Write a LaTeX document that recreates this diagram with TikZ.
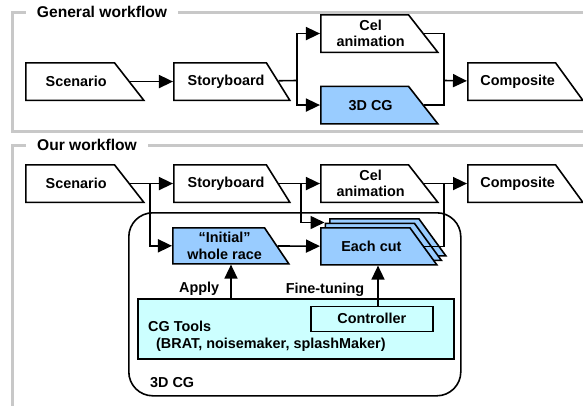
\documentclass[tikz,border=0pt]{standalone}
\usepackage{fontspec}
\setmainfont{Liberation Sans}
\usetikzlibrary{shapes.geometric, arrows.meta, positioning}
\definecolor{cgblue}{HTML}{99CCFF}
\definecolor{toolcyan}{HTML}{CCFFFF}
\definecolor{panelgray}{HTML}{C8C8C8}
\newcommand{\boxfont}{\fontsize{14.4}{16.5}\selectfont\bfseries}
\newcommand{\titlefont}{\fontsize{15.6}{18}\selectfont\bfseries}
\tikzstyle{wire}=[line width=1.6pt]
\tikzset{flow/.style={trapezium, trapezium left angle=90, trapezium right angle=54,
  trapezium stretches body, draw, wire, fill=white, minimum width=116pt,
  inner xsep=0pt, inner ysep=18.75pt, anchor=top left corner,
  label={[xshift=6pt, align=center]center:{#1}}}}
\tikzstyle{panel}=[draw=panelgray, line width=3pt]
\tikzstyle{title}=[fill=white, inner xsep=11pt, inner ysep=0pt, font=\titlefont]
\tikzstyle{box}=[draw, wire, fill=toolcyan, inner sep=0pt, anchor=north west]

\begin{document}
\begin{tikzpicture}[x=1pt, y=-1pt, font=\boxfont, >={Triangle[length=14pt,width=13pt]}]
    \useasboundingbox (0,0) rectangle (583,405);
    \clip (0,0) rectangle (583,405);

    % general workflow
    \draw[panel] (12,12) rectangle (600,131.5);
    \node[title] (gtitle) at (102,12) {General workflow};
    \node[flow=Scenario, minimum width=118pt, trapezium right angle=52] (scen1) at (25,62) {};
    \node[flow=Storyboard, trapezium right angle=58] (story1) at (173,62) {};
    \node[flow={Cel\\animation}, minimum width=117pt, trapezium right angle=52] (cel1) at (320,14) {};
    \node[flow={3D CG}, minimum width=117pt, trapezium right angle=52, fill=cgblue] (cg1) at (320,85.5) {};
    \node[flow=Composite, minimum width=115pt] (comp1) at (467,62) {};
    \coordinate (fork1) at (297,80.5);
    \coordinate (join1) at (444,80.5);
    \draw[->, wire] (scen1) -- (story1);
    \draw[wire] (story1) -- (fork1);
    \draw[->, wire] (fork1) |- (cel1.west);
    \draw[->, wire] (fork1) |- (cg1.west);
    \draw[wire] (cel1.east) -| (join1);
    \draw[wire] (cg1.east) -| (join1);
    \draw[->, wire] (join1) -- (comp1);

    % our workflow
    \draw[panel] (12,145) rectangle (600,420);
    \node[title] (otitle) at (87,145) {Our workflow};
    \node[draw, wire, rounded corners=24pt, minimum width=332pt, minimum height=183pt,
      anchor=north west, inner sep=0pt] (cgbox) at (128,212) {};
    \node[anchor=base west, inner sep=0pt] (cglabel) at (150,387) {3D CG};
    \node[flow=Scenario, minimum width=118pt, trapezium right angle=52] (scen2) at (25,164) {};
    \node[flow=Storyboard, trapezium right angle=58] (story2) at (173,164) {};
    \node[flow={Cel\\animation}, minimum width=117pt, trapezium right angle=52] (cel2) at (320,164) {};
    \node[flow=Composite, minimum width=115pt] (comp2) at (467,164) {};
    \node[flow={“Initial”\\whole race}, inner ysep=18pt, trapezium right angle=56, fill=cgblue] (init) at (172,227) {};
    \node[flow={}, inner ysep=18.5pt, fill=cgblue] (cutback) at (329,218) {};
    \node[flow={}, inner ysep=18.5pt, fill=cgblue] (cutmid) at (324.5,222.5) {};
    \node[flow={Each cut}, inner ysep=18.5pt, fill=cgblue] (cut) at (320,227) {};
    \node[box, minimum width=316pt, minimum height=60pt] (tools) at (137,298) {};
    \node[anchor=north west, inner sep=0pt, align=left] (toolstxt) at (148,321)
      {CG Tools\\\hspace{8pt}(BRAT, noisemaker, splashMaker)};
    \node[box, minimum width=122pt, minimum height=25pt] (ctrl) at (310,305.5) {Controller};

    \coordinate (fork0) at (150,183);
    \coordinate (fork2) at (301,183);
    \coordinate (join2) at (444,183);
    \coordinate (applyfoot) at (231,298);
    \coordinate (tunefoot) at (378,305.5);
    \draw[->, wire] (scen2) -- (story2);
    \draw[->, wire] (story2) -- (cel2);
    \draw[->, wire] (cel2) -- (comp2);
    \draw[->, wire] (fork0) |- (init.west);
    \draw[->, wire] (fork2) |- (cutmid.top left corner);
    \draw[->, wire] (init) -- (cut);
    \draw[wire] (cut.east) -| (join2);
    \draw[->, wire] (applyfoot) -- (applyfoot |- init.south)
      node[pos=.27, left=11pt, inner sep=0pt] (apply) {Apply};
    \draw[->, wire] (tunefoot) -- (tunefoot |- cut.south)
      node[pos=.4, left=13pt, inner sep=0pt] (tune) {Fine-tuning};
\end{tikzpicture}
\end{document}
